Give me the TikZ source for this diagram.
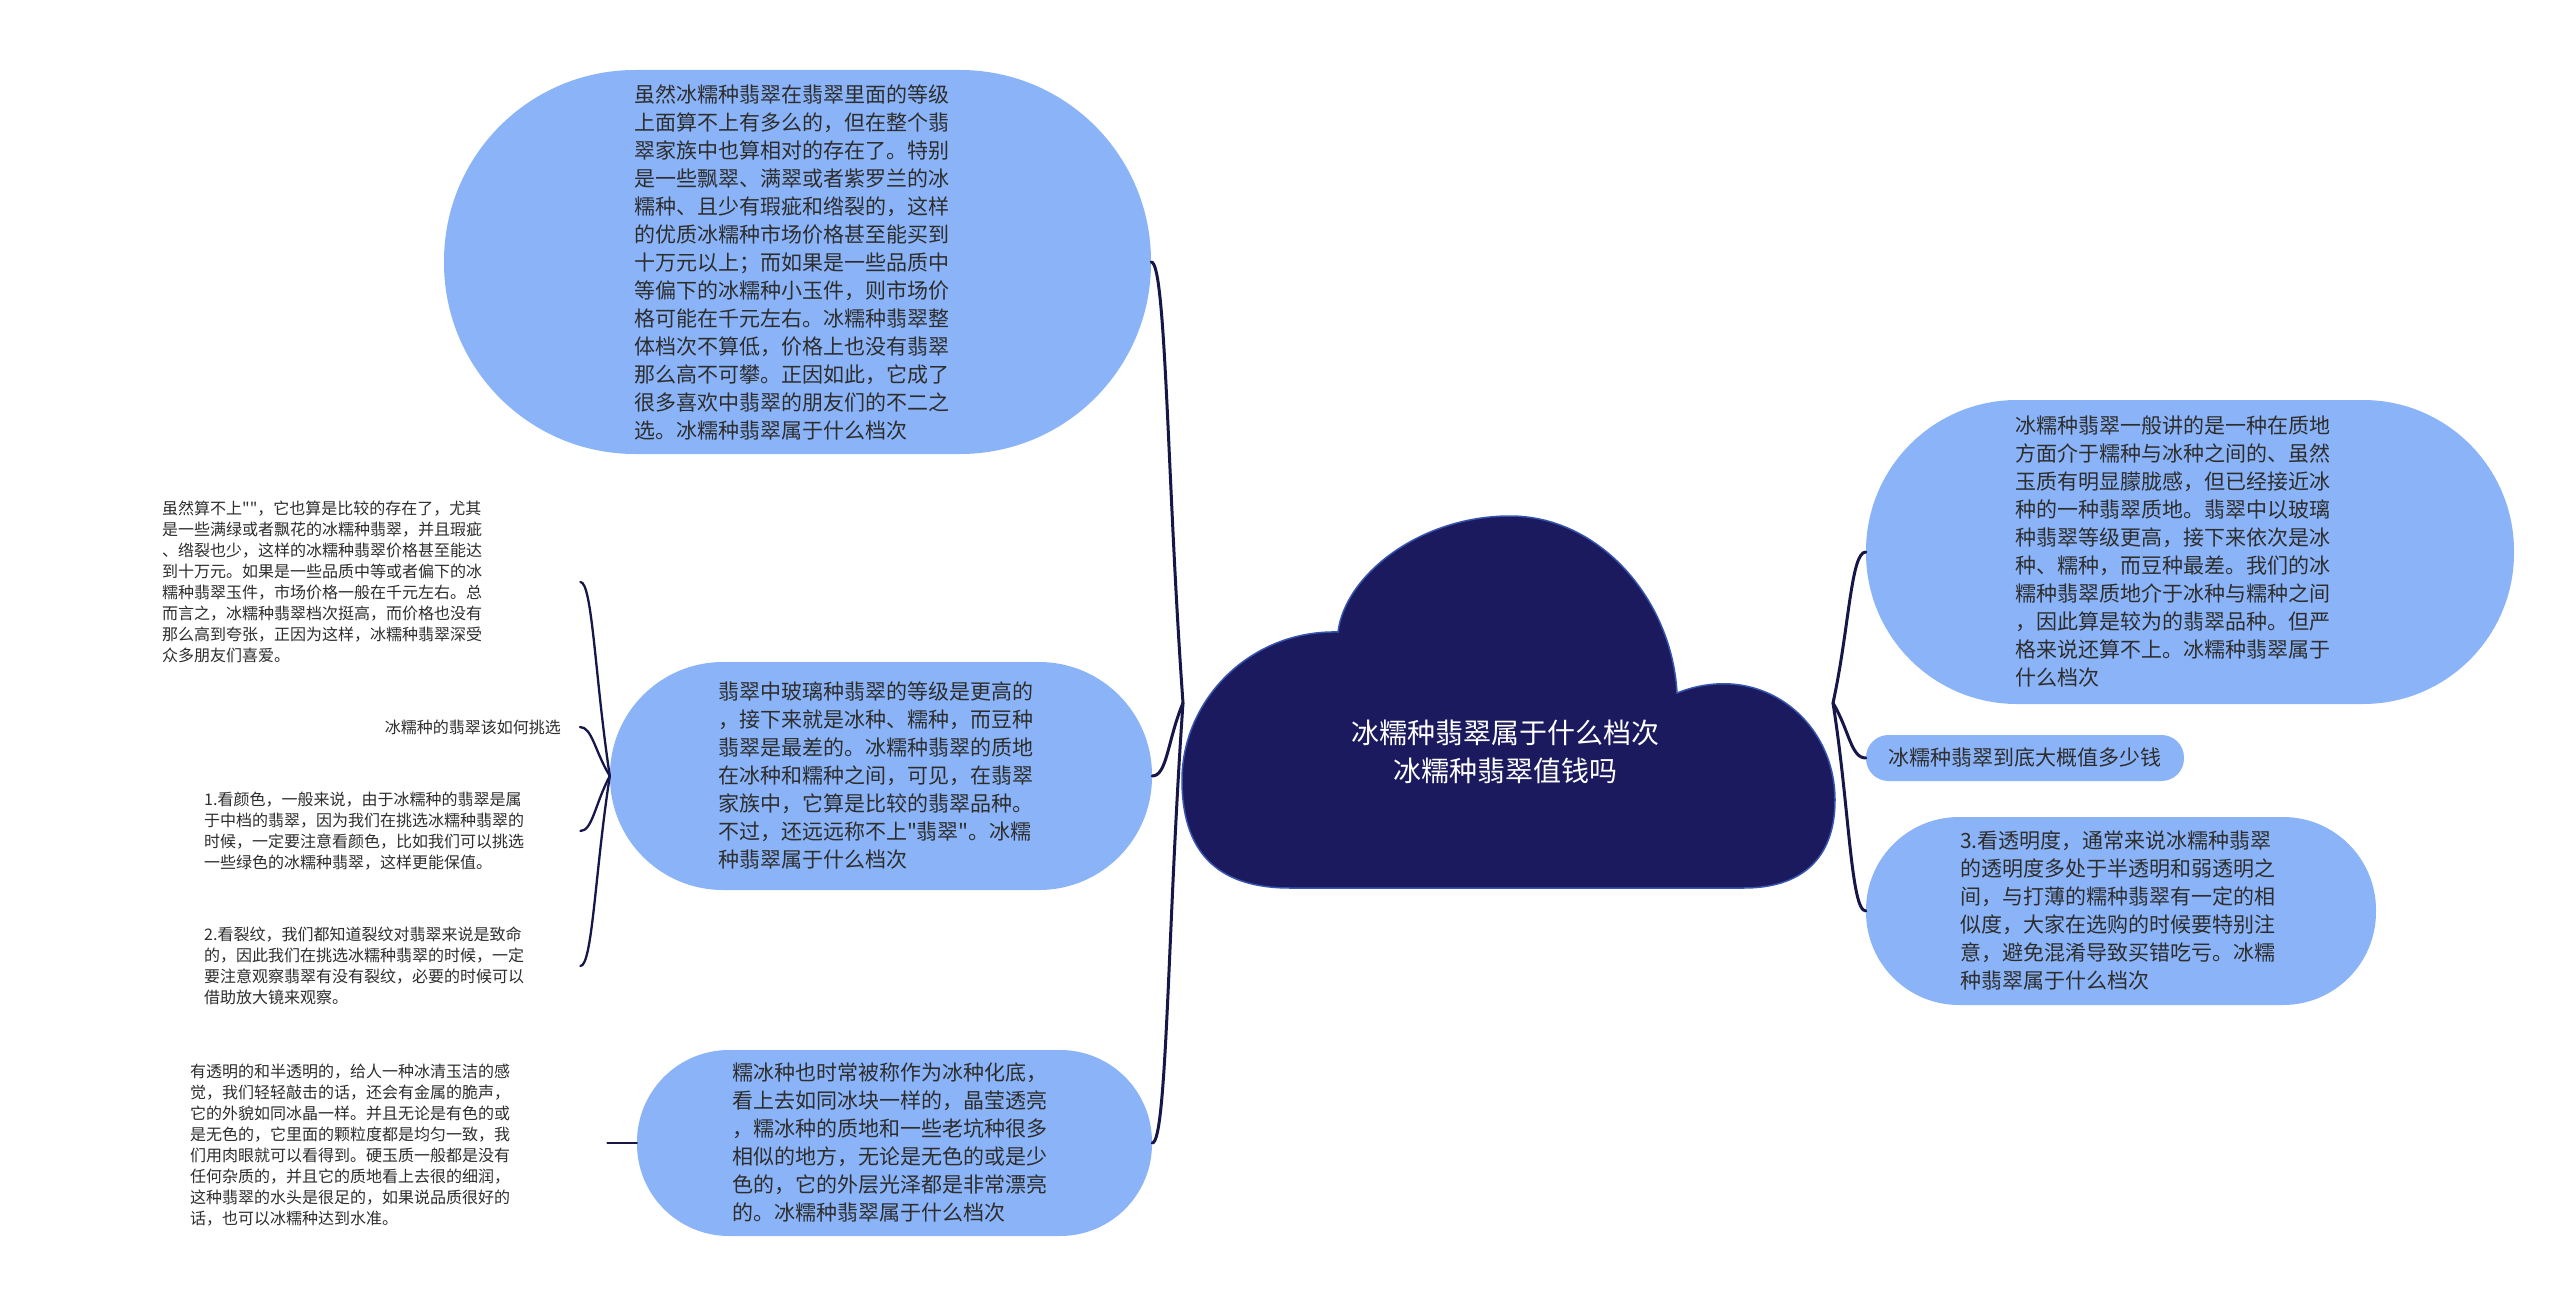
\documentclass[tikz,border=0pt]{standalone}
\usepackage{fontspec}
\setmainfont{Noto Sans CJK SC}[Ligatures=TeXOff]
\usetikzlibrary{calc}
\definecolor{nodeblue}{RGB}{139,180,248}
\definecolor{cloudnavy}{RGB}{27,26,94}
\definecolor{cloudedge}{RGB}{55,85,175}
\definecolor{conncol}{RGB}{22,22,72}
\definecolor{txt}{RGB}{45,45,45}
\begin{document}
\begin{tikzpicture}[x=1pt,y=-1pt,
  topic/.style={fill=nodeblue, draw=none, rectangle, align=left, text=txt,
    font=\fontsize{21}{28}\selectfont, inner sep=0pt},
  plaintext/.style={align=left, text=txt, font=\fontsize{16}{21}\selectfont, inner sep=0pt},
  conn/.style={draw=conncol, line width=3pt, line cap=round},
  subconn/.style={draw=conncol, line width=2.3pt, line cap=round}]

\useasboundingbox (0,0) rectangle (2560,1308);
\fill[white] (0,0) rectangle (2560,1308);

% central cloud
\path[fill=cloudnavy, draw=cloudedge, line width=1.5pt]
 (1290,888) .. controls (1215,888) and (1182,850) .. (1182,780)
 .. controls (1182,700) and (1250,630) .. (1338,632)
 .. controls (1345,575) and (1420,516) .. (1510,516)
 .. controls (1600,516) and (1672,600) .. (1677,693)
 .. controls (1760,660) and (1835,720) .. (1835,800)
 .. controls (1835,860) and (1800,888) .. (1744,888)
 -- cycle;
\node[text=white, font=\fontsize{28}{38}\selectfont, align=center, inner sep=0pt] (center) at (1505,752)
 {冰糯种翡翠属于什么档次\\冰糯种翡翠值钱吗};
\coordinate (cl) at (1183,703);
\coordinate (cr) at (1833,703);

% left topics
\node[topic, text width=326pt, minimum width=707pt, minimum height=384pt, rounded corners=191pt] (tl) at (797.5,262) {%
虽然冰糯种翡翠在翡翠里面的等级\\
上面算不上有多么的，但在整个翡\\
翠家族中也算相对的存在了。特别\\
是一些飘翠、满翠或者紫罗兰的冰\\
糯种、且少有瑕疵和绺裂的，这样\\
的优质冰糯种市场价格甚至能买到\\
十万元以上；而如果是一些品质中\\
等偏下的冰糯种小玉件，则市场价\\
格可能在千元左右。冰糯种翡翠整\\
体档次不算低，价格上也没有翡翠\\
那么高不可攀。正因如此，它成了\\
很多喜欢中翡翠的朋友们的不二之\\
选。冰糯种翡翠属于什么档次};

\node[topic, text width=326pt, minimum width=542pt, minimum height=228pt, rounded corners=113pt] (ml) at (881,776) {%
翡翠中玻璃种翡翠的等级是更高的\\
，接下来就是冰种、糯种，而豆种\\
翡翠是最差的。冰糯种翡翠的质地\\
在冰种和糯种之间，可见，在翡翠\\
家族中，它算是比较的翡翠品种。\\
不过，还远远称不上"翡翠"。冰糯\\
种翡翠属于什么档次};

\node[topic, text width=325pt, minimum width=515pt, minimum height=186pt, rounded corners=92pt] (bl) at (894.5,1143) {%
糯冰种也时常被称作为冰种化底，\\
看上去如同冰块一样的，晶莹透亮\\
，糯冰种的质地和一些老坑种很多\\
相似的地方，无论是无色的或是少\\
色的，它的外层光泽都是非常漂亮\\
的。冰糯种翡翠属于什么档次};

% right topics
\node[topic, text width=350pt, minimum width=648pt, minimum height=304pt, rounded corners=151pt] (rt) at (2190,552) {%
冰糯种翡翠一般讲的是一种在质地\\
方面介于糯种与冰种之间的、虽然\\
玉质有明显朦胧感，但已经接近冰\\
种的一种翡翠质地。翡翠中以玻璃\\
种翡翠等级更高，接下来依次是冰\\
种、糯种，而豆种最差。我们的冰\\
糯种翡翠质地介于冰种与糯种之间\\
，因此算是较为的翡翠品种。但严\\
格来说还算不上。冰糯种翡翠属于\\
什么档次};

\node[topic, minimum width=318pt, minimum height=46pt, rounded corners=22.5pt] (rs) at (2025,758)
 {冰糯种翡翠到底大概值多少钱};

\node[topic, text width=322pt, minimum width=510pt, minimum height=188pt, rounded corners=93pt] (rb) at (2121,911) {%
3.看透明度，通常来说冰糯种翡翠\\
的透明度多处于半透明和弱透明之\\
间，与打薄的糯种翡翠有一定的相\\
似度，大家在选购的时候要特别注\\
意，避免混淆导致买错吃亏。冰糯\\
种翡翠属于什么档次};

% plain sub-topics on the far left
\node[plaintext, anchor=west, text width=418pt] (p1) at (162,582) {%
虽然算不上""，它也算是比较的存在了，尤其\\
是一些满绿或者飘花的冰糯种翡翠，并且瑕疵\\
、绺裂也少，这样的冰糯种翡翠价格甚至能达\\
到十万元。如果是一些品质中等或者偏下的冰\\
糯种翡翠玉件，市场价格一般在千元左右。总\\
而言之，冰糯种翡翠档次挺高，而价格也没有\\
那么高到夸张，正因为这样，冰糯种翡翠深受\\
众多朋友们喜爱。};

\node[plaintext, anchor=east, inner xsep=19pt] (p2) at (580,727) {冰糯种的翡翠该如何挑选};

\node[plaintext, anchor=west, text width=376pt] (p3) at (204,831) {%
1.看颜色，一般来说，由于冰糯种的翡翠是属\\
于中档的翡翠，因为我们在挑选冰糯种翡翠的\\
时候，一定要注意看颜色，比如我们可以挑选\\
一些绿色的冰糯种翡翠，这样更能保值。};

\node[plaintext, anchor=west, text width=376pt] (p4) at (204,966) {%
2.看裂纹，我们都知道裂纹对翡翠来说是致命\\
的，因此我们在挑选冰糯种翡翠的时候，一定\\
要注意观察翡翠有没有裂纹，必要的时候可以\\
借助放大镜来观察。};

\node[plaintext, anchor=west, text width=417pt] (p5) at (190,1145) {%
有透明的和半透明的，给人一种冰清玉洁的感\\
觉，我们轻轻敲击的话，还会有金属的脆声，\\
它的外貌如同冰晶一样。并且无论是有色的或\\
是无色的，它里面的颗粒度都是均匀一致，我\\
们用肉眼就可以看得到。硬玉质一般都是没有\\
任何杂质的，并且它的质地看上去很的细润，\\
这种翡翠的水头是很足的，如果说品质很好的\\
话，也可以冰糯种达到水准。};

% connectors from the centre
\foreach \n in {tl,ml,bl}{
  \draw[conn] (cl) .. controls ($(cl)!0.5!(\n.east)$) and ($(\n.east)+(15,0)$) .. (\n.east);
}
\foreach \n in {rt,rs,rb}{
  \draw[conn] (cr) .. controls ($(cr)!0.5!(\n.west)$) and ($(\n.west)+(-15,0)$) .. (\n.west);
}
% second level
\foreach \n in {p1,p2,p3,p4}{
  \draw[subconn] (ml.west) .. controls ($(ml.west)!0.5!(\n.east)$) and ($(\n.east)+(12,0)$) .. (\n.east);
}
\draw[subconn] (bl.west) -- (p5.east |- bl.west);
\end{tikzpicture}
\end{document}
